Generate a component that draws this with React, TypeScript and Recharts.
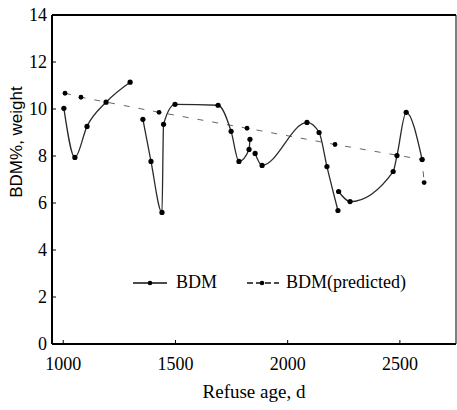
import { LineChart, Line, XAxis, YAxis, ReferenceLine, Legend } from "recharts";

// BDM measurements (null = break between curve segments)
const bdmAge = [
  1003, 1052, 1106, 1191, 1298, 1325,
  1355, 1391, 1440, 1447, 1498, 1690, 1748, 1783, 1828, 1832, 1843,
  1855, 1886, 2086, 2140, 2175, 2224, 2226,
  2227, 2278, 2470, 2487, 2528, 2599,
];
const bdmValue = [
  10.03, 7.94, 9.26, 10.29, 11.14, null,
  9.56, 7.77, 5.6, 9.35, 10.2, 10.16, 9.05, 7.77, 8.28, 8.71, null,
  8.11, 7.6, 9.43, 9.0, 7.55, 5.68, null,
  6.49, 6.06, 7.34, 8.02, 9.86, 7.85,
];

// BDM predicted
const predAge = [1008, 1079, 1427, 1819, 2211, 2599, 2608];
const predValue = [10.67, 10.5, 9.86, 9.18, 8.49, 7.85, 6.87];

const xTicks = [1000, 1500, 2000, 2500];
const yTicks = [0, 2, 4, 6, 8, 10, 12, 14];

const bdmData = bdmAge.map((age, i) => ({ age, bdm: bdmValue[i] }));
const predData = predAge.map((age, i) => ({ age, pred: predValue[i] }));

const serif = "'Liberation Serif', 'Times New Roman', serif";

function ChartLegend() {
  return (
    <div style={{ display: "flex", alignItems: "center", fontFamily: serif, fontSize: 18, color: "#000" }}>
      <svg width={36} height={10} style={{ marginRight: 7 }}>
        <line x1={0} y1={5} x2={34} y2={5} stroke="#111" strokeWidth={1.6} />
        <circle cx={17} cy={5} r={2.3} fill="#000" />
      </svg>
      <span>BDM</span>
      <svg width={34} height={10} style={{ marginLeft: 30, marginRight: 5 }}>
        <line x1={0} y1={5} x2={32} y2={5} stroke="#111" strokeWidth={1.4} strokeDasharray="6 3" />
        <circle cx={15} cy={5} r={2.3} fill="#000" />
      </svg>
      <span>BDM(predicted)</span>
    </div>
  );
}

export default function App() {
  return (
    <div style={{ position: "absolute", left: 0, top: 0, width: 457, height: 410, background: "#fff" }}>
      <LineChart width={457} height={410} margin={{ top: 15, right: 1, left: 0, bottom: 0 }}>
        <XAxis
          type="number"
          dataKey="age"
          domain={[950, 2750]}
          ticks={xTicks}
          allowDataOverflow
          height={66}
          tickSize={-4}
          tickMargin={17}
          tick={{ fontSize: 18, fontFamily: serif, fill: "#000" }}
          axisLine={{ stroke: "#000", strokeWidth: 2 }}
          tickLine={{ stroke: "#000" }}
          label={{ value: "Refuse age, d", position: "insideBottom", offset: 12, fontSize: 19, fontFamily: serif, fill: "#000" }}
        />
        <YAxis
          type="number"
          domain={[0, 14]}
          ticks={yTicks}
          width={52}
          tickSize={-4}
          tickMargin={9}
          tick={{ fontSize: 18, fontFamily: serif, fill: "#000" }}
          axisLine={{ stroke: "#000", strokeWidth: 2 }}
          tickLine={{ stroke: "#000" }}
        />
        <ReferenceLine y={14} stroke="#000" strokeWidth={2} />
        <ReferenceLine x={2750} stroke="#000" strokeWidth={1} />
        <Legend
          verticalAlign="middle"
          content={<ChartLegend />}
          wrapperStyle={{ position: "absolute", left: 133, top: 272, width: "auto" }}
        />
        <Line
          data={predData}
          dataKey="pred"
          name="BDM(predicted)"
          type="linear"
          stroke="#666"
          strokeWidth={1}
          strokeDasharray="6 9"
          dot={{ r: 2.4, fill: "#000", stroke: "#000", strokeWidth: 0 }}
          isAnimationActive={false}
        />
        <Line
          data={bdmData}
          dataKey="bdm"
          name="BDM"
          type="monotone"
          stroke="#2a2a2a"
          strokeWidth={1.3}
          dot={{ r: 2.6, fill: "#000", stroke: "#000", strokeWidth: 0 }}
          isAnimationActive={false}
        />
      </LineChart>
      <div
        style={{
          position: "absolute",
          left: 17,
          top: 142,
          transform: "translate(-50%, -50%) rotate(-90deg)",
          fontFamily: "'Liberation Sans', Arial, sans-serif",
          fontSize: 17,
          whiteSpace: "nowrap",
          color: "#000",
        }}
      >
        BDM%, weight
      </div>
    </div>
  );
}
